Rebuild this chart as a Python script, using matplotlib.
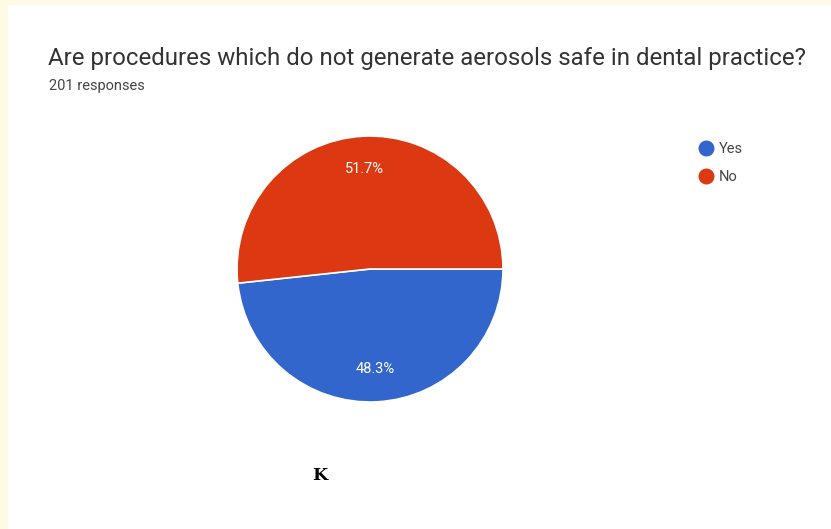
import matplotlib
matplotlib.use("Agg")
import matplotlib.pyplot as plt
from matplotlib.patches import Rectangle
from matplotlib.lines import Line2D

labels = ["Yes", "No"]
values = [48.3, 51.7]
colors = ["#3366cc", "#dc3912"]
title = "Are procedures which do not generate aerosols safe in dental practice?"
subtitle = "201 responses"
panel_letter = "K"

W, H = 831, 529
fig = plt.figure(figsize=(W / 100, H / 100), dpi=100)
fig.patch.set_facecolor("#fffae6")
fig.patches.append(Rectangle((8 / W, 0), 1 - 8 / W, 1 - 5 / H, transform=fig.transFigure,
                             facecolor="white", edgecolor="none", zorder=-5))

fig.text(48 / W, 1 - 58 / H, title, fontsize=17.3, family="Roboto", color="#333333",
         va="center", ha="left")
fig.text(49 / W, 1 - 86 / H, subtitle, fontsize=10.5, family="Roboto", color="#444444",
         va="center", ha="left")

cx, cy, r = 370, 269, 133
ax = fig.add_axes([(cx - r) / W, (H - cy - r) / H, 2 * r / W, 2 * r / H])
wedges, texts, autotexts = ax.pie(values, colors=colors, startangle=0, counterclock=False,
                                  autopct="%.1f%%", pctdistance=0.75,
                                  wedgeprops=dict(edgecolor="white", linewidth=1.2),
                                  textprops=dict(color="white", fontsize=10.5, family="Roboto"))
ax.set_xlim(-1, 1)
ax.set_ylim(-1, 1)
ax.set_aspect("auto")
ax.axis("off")

handles = [Line2D([], [], marker="o", linestyle="none", markersize=10.5,
                  markerfacecolor=c, markeredgecolor=c) for c in colors]
leg = fig.legend(handles, labels, loc="upper left", bbox_to_anchor=(699 / W, 1 - 142 / H),
                 frameon=False, handletextpad=0.45, labelspacing=0.95, handlelength=0.9,
                 prop=dict(family="Roboto", size=10.5), borderaxespad=0, borderpad=0)
for t in leg.get_texts():
    t.set_color("#444444")

fig.text(320 / W, 1 - 476 / H, panel_letter, fontsize=12.5, family="DejaVu Serif",
         fontweight="bold", color="black", ha="center", va="center")

fig.savefig("out.png", dpi=100, facecolor=fig.get_facecolor())
